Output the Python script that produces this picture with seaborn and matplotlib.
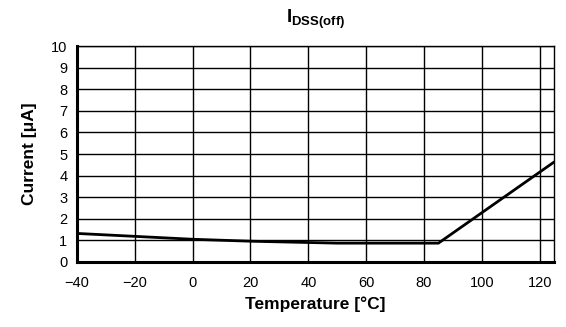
import matplotlib
matplotlib.use('Agg')
import matplotlib.pyplot as plt
import seaborn as sns
import pandas as pd

# valores
temperatura = [-40, 0, 20, 50, 85, 125]
corrente = [1.32, 1.05, 0.96, 0.87, 0.87, 4.63]
x_ticks = [-40, -20, 0, 20, 40, 60, 80, 100, 120]
y_ticks = list(range(0, 11))

df = pd.DataFrame({'Temperatura': temperatura, 'Corrente': corrente})

sns.set_style('white')
plt.rcParams['font.family'] = ['Liberation Sans', 'DejaVu Sans']
plt.rcParams['mathtext.fontset'] = 'custom'
plt.rcParams['mathtext.rm'] = 'Liberation Sans'
plt.rcParams['mathtext.bf'] = 'Liberation Sans:bold'
plt.rcParams['text.color'] = 'black'
plt.rcParams['axes.labelcolor'] = 'black'

fig, ax = plt.subplots(figsize=(5.66, 3.27), dpi=100)
sns.lineplot(x='Temperatura', y='Corrente', data=df, color='black', linewidth=2, ax=ax)

ax.set_xlim(-40, 125)
ax.set_ylim(0, 10)
ax.set_xticks(x_ticks)
ax.set_yticks(y_ticks)
ax.set_xticklabels([str(t).replace('-', '\u2212') for t in x_ticks])
ax.tick_params(length=0, labelsize=10.5, colors='black')
ax.tick_params(axis='x', pad=10)
ax.tick_params(axis='y', pad=7)
ax.grid(True, color='black', linewidth=1)
ax.set_axisbelow(True)
for lado in ['top', 'right']:
    ax.spines[lado].set_linewidth(1)
    ax.spines[lado].set_color('black')
for lado in ['left', 'bottom']:
    ax.spines[lado].set_linewidth(2.2)
    ax.spines[lado].set_color('black')

ax.set_title(r'$\mathbf{I}_{\mathbf{DSS(off)}}$', fontsize=13.5, pad=17, color='black')
ax.set_xlabel('Temperature [\u00b0C]', fontsize=12.5, fontweight='bold', labelpad=5)
ax.set_ylabel('Current [\u03bcA]', fontsize=12.5, fontweight='bold', labelpad=10)

plt.subplots_adjust(left=0.136, right=0.979, top=0.859, bottom=0.199)
plt.savefig('out.png', dpi=100)
